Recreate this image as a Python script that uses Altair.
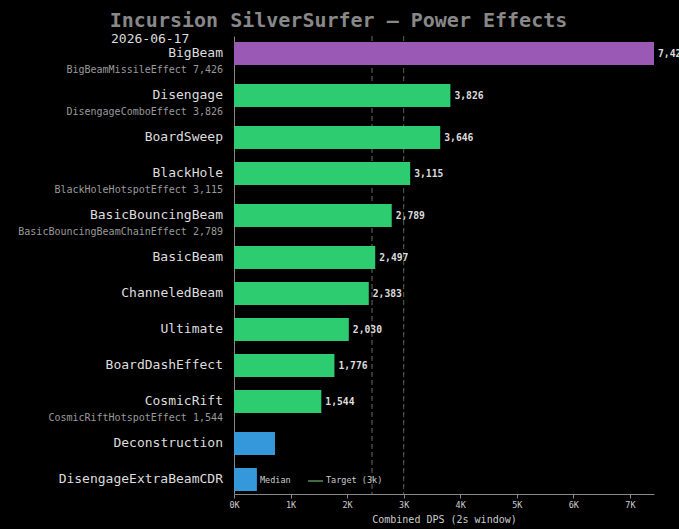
import altair as alt
import pandas as pd

# ---------------- data ----------------
effects = ["BigBeam", "Disengage", "BoardSweep", "BlackHole", "BasicBouncingBeam",
           "BasicBeam", "ChanneledBeam", "Ultimate", "BoardDashEffect", "CosmicRift",
           "Deconstruction", "DisengageExtraBeamCDR"]
dps = [7426, 3826, 3646, 3115, 2789, 2497, 2383, 2030, 1776, 1544, 725, 405]
groups = ["top", "main", "main", "main", "main", "main", "main", "main", "main", "main",
          "minor", "minor"]
sub_effects = ["BigBeamMissileEffect", "DisengageComboEffect", "", "BlackHoleHotspotEffect",
               "BasicBouncingBeamChainEffect", "", "", "", "", "CosmicRiftHotspotEffect", "", ""]
sub_dps = [7426, 3826, 0, 3115, 2789, 0, 0, 0, 0, 1544, 0, 0]
target_dps = 3000
x_ticks = [0, 1000, 2000, 3000, 4000, 5000, 6000, 7000]
title_text = "Incursion SilverSurfer — Power Effects"
date_text = "2026-06-17"
x_title = "Combined DPS (2s window)"
legend_median = "Median"
legend_target = "Target (3k)"

# ---------------- layout (rows with a sub-effect line get extra room) ----------------
ROW, ROW_SUB, BAR_PAD, BAR_H = 36, 42, 6, 23
W, H = 420, 458
FONT = "DejaVu Sans Mono"

rows = []
top = 0
for name, v, g, se, sv in zip(effects, dps, groups, sub_effects, sub_dps):
    rows.append(dict(
        effect=name, dps=v, group=g, zero=0,
        sub=f"{se} {sv:,}" if se else "",
        y0=top + BAR_PAD, y1=top + BAR_PAD + BAR_H,
        yc=top + BAR_PAD + BAR_H / 2, ysub=top + 34,
        vlabel=f"{v:,}" if g != "minor" else "",
    ))
    top += ROW_SUB if se else ROW
df = pd.DataFrame(rows)

xscale = alt.Scale(domain=[0, max(dps)], nice=False, zero=True)
yscale = alt.Scale(domain=[0, H], reverse=True, nice=False, zero=False)
xaxis = alt.Axis(values=x_ticks, labelExpr="datum.value / 1000 + 'K'", title=x_title,
                 grid=False, domainColor="#888", tickColor="#888", tickSize=4,
                 labelFlush=False,
                 labelColor="#cccccc", labelFont=FONT, labelFontSize=8.5, labelPadding=2,
                 titleColor="#cccccc", titleFont=FONT, titleFontSize=10, titleFontWeight="normal",
                 titlePadding=6)
yaxis = alt.Axis(labels=False, ticks=False, grid=False, title=None, domainColor="#888")

base = alt.Chart(df)

median_rule = base.transform_aggregate(med="median(dps)").mark_rule(
    color="#6a6a6a", strokeDash=[5, 3], strokeWidth=1
).encode(x=alt.X("med:Q", scale=xscale, axis=xaxis))

target_rule = alt.Chart(pd.DataFrame({"t": [target_dps]})).mark_rule(
    color="#4f6a4f", strokeDash=[5, 3], strokeWidth=1
).encode(x=alt.X("t:Q", scale=xscale, axis=xaxis))

bars = base.mark_rect().encode(
    x=alt.X("zero:Q", scale=xscale, axis=xaxis),
    x2="dps:Q",
    y=alt.Y("y0:Q", scale=yscale, axis=yaxis),
    y2="y1:Q",
    color=alt.Color("group:N", scale=alt.Scale(domain=["top", "main", "minor"],
                                               range=["#9b59b6", "#2ecc71", "#3498db"]),
                    legend=None),
)

value_labels = base.transform_filter("datum.vlabel != ''").mark_text(
    align="left", baseline="middle", dx=4, font=FONT, fontSize=9.7, fontWeight="bold",
    color="#dddddd"
).encode(
    x=alt.X("dps:Q", scale=xscale, axis=xaxis),
    y=alt.Y("yc:Q", scale=yscale, axis=yaxis),
    text="vlabel:N",
)

name_labels = base.mark_text(
    align="right", baseline="middle", dy=-1, font=FONT, fontSize=13, color="#dddddd"
).encode(
    x=alt.value(-11),
    y=alt.Y("yc:Q", scale=yscale, axis=yaxis),
    text="effect:N",
)

sub_labels = base.transform_filter("datum.sub != ''").mark_text(
    align="right", baseline="middle", font=FONT, fontSize=10, color="#9a9a9a"
).encode(
    x=alt.value(-11),
    y=alt.Y("ysub:Q", scale=yscale, axis=yaxis),
    text="sub:N",
)

one = alt.Chart(pd.DataFrame({"a": [0]}))
legend_target_swatch = one.mark_rule(color="#3d6b3d", strokeWidth=2).encode(
    x=alt.value(74), x2=alt.value(89), y=alt.value(445))
legend_median_text = one.mark_text(
    align="left", baseline="middle", font=FONT, fontSize=8.5, color="#cccccc",
    text=legend_median).encode(x=alt.value(26), y=alt.value(443.5))
legend_target_text = one.mark_text(
    align="left", baseline="middle", font=FONT, fontSize=8.5, color="#cccccc",
    text=legend_target).encode(x=alt.value(92), y=alt.value(443.5))

title_mark = one.mark_text(
    align="center", baseline="alphabetic", font=FONT, fontSize=20, fontWeight="bold",
    color="#888888", text=title_text).encode(x=alt.value(104.5), y=alt.value(-9.5))
date_mark = one.mark_text(
    align="left", baseline="alphabetic", font=FONT, fontSize=13, color="#dddddd",
    text=date_text).encode(x=alt.value(-123), y=alt.value(6.5))

chart = alt.layer(
    median_rule, target_rule, bars, value_labels, name_labels, sub_labels,
    legend_target_swatch, legend_median_text, legend_target_text, title_mark, date_mark,
).properties(
    width=W, height=H,
    autosize=alt.AutoSizeParams(type="none"),
    padding={"left": 234, "top": 36, "right": 25, "bottom": 35},
).configure(background="black").configure_view(stroke=None)

chart.save("out.html", embed_options={"renderer": "svg", "actions": False})
